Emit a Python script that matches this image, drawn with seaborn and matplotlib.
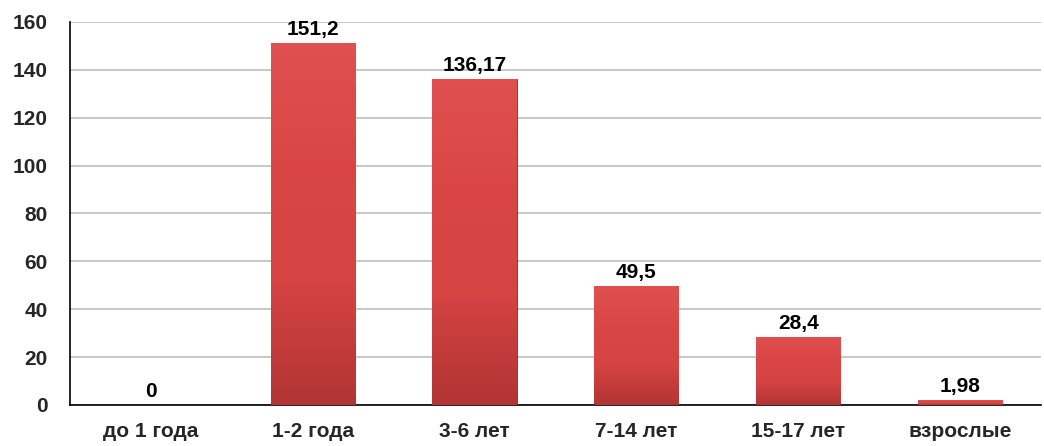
import numpy as np
import pandas as pd
import matplotlib
matplotlib.use("Agg")
import matplotlib.pyplot as plt
import seaborn as sns

categories = ["до 1 года", "1-2 года", "3-6 лет", "7-14 лет", "15-17 лет", "взрослые"]
values = [0, 151.2, 136.17, 49.5, 28.4, 1.98]
y_ticks = [0, 20, 40, 60, 80, 100, 120, 140, 160]

sns.set_theme(style="white")
plt.rcParams['font.family'] = ['Liberation Sans', 'DejaVu Sans']
plt.rcParams['font.weight'] = 'bold'

df = pd.DataFrame({"group": categories, "value": values})

fig = plt.figure(figsize=(10.44, 4.46), dpi=100)
ax = fig.add_axes([0.067, 0.092, 0.93, 0.859])

sns.barplot(data=df, x="group", y="value", color="#d94444", width=0.52,
            edgecolor="#8a2525", linewidth=0.6, saturation=1, ax=ax, zorder=3)

# vertical gradient inside each bar for the bevel look
grad = np.linspace(0, 1, 256).reshape(-1, 1)
cmap = matplotlib.colors.LinearSegmentedColormap.from_list(
    "bar", ["#b23434", "#d54343", "#da4646", "#e05050"])
for patch in ax.patches:
    x0, y0 = patch.get_x(), patch.get_y()
    w, h = patch.get_width(), patch.get_height()
    if h <= 0:
        continue
    im = ax.imshow(grad, cmap=cmap, aspect="auto", origin="lower",
                   extent=[x0, x0 + w, y0, y0 + h], zorder=3.5)
    im.set_clip_path(patch)

for i, v in enumerate(values):
    ax.annotate(f"{v:g}".replace(".", ","), (i, v), xytext=(0, 3),
                textcoords="offset points", ha="center", va="bottom",
                fontsize=15, fontweight="bold", color="black", zorder=5)

ax.set_xlim(-0.5, len(categories) - 0.5)
ax.set_ylim(0, 160)
ax.set_yticks(y_ticks)
ax.yaxis.grid(True, color="#bfbfbf", linewidth=1.2, zorder=0)
ax.set_axisbelow(True)

ax.set_xticks(np.arange(-0.5, len(categories), 1), minor=True)
ax.tick_params(axis="x", which="major", length=0, pad=12, labelsize=15)
ax.tick_params(axis="x", which="minor", length=6, width=1.2, color="black", direction="out")
ax.tick_params(axis="y", length=6, width=1.2, color="black", direction="out",
               labelsize=15, pad=10)
for lbl in ax.get_xticklabels() + ax.get_yticklabels():
    lbl.set_fontweight("bold")

ax.set_xlabel("")
ax.set_ylabel("")
for s in ["top", "right"]:
    ax.spines[s].set_visible(False)
for s in ["left", "bottom"]:
    ax.spines[s].set_color("black")
    ax.spines[s].set_linewidth(1.2)

fig.savefig("out.png", dpi=100)
